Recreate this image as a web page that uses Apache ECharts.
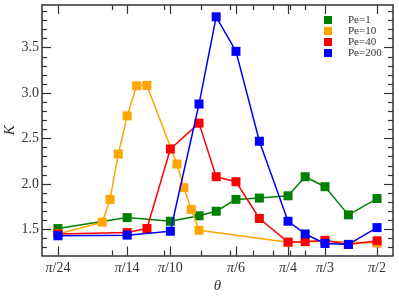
<!DOCTYPE html>
<html>
<head>
<meta charset="utf-8">
<script src="https://cdn.jsdelivr.net/npm/echarts@6/dist/echarts.min.js"></script>
<style>html,body{margin:0;padding:0;background:#fff}#c{width:399px;height:303px}</style>
</head>
<body>
<div id="c"></div>
<script>
// theta values are given as fractions of pi
var thetaGreen = [1/24, 1/14, 1/10, 1/8, 1/7, 1/6, 1/5, 1/4, 2/7, 1/3, 2/5, 1/2];
var kGreen     = [1.51, 1.63, 1.59, 1.65, 1.70, 1.83, 1.845, 1.87, 2.08, 1.97, 1.66, 1.84];
var thetaOrange = [1/24, 1/17, 1/16, 1/15, 1/14, 1/13, 1/12, 1/9.5, 1/9, 1/8.5, 1/8, 1/4, 1/3, 1/2];
var kOrange     = [1.45, 1.58, 1.83, 2.33, 2.75, 3.08, 3.085, 2.22, 1.96, 1.72, 1.49, 1.36, 1.37, 1.35];
var thetaRed = [1/24, 1/14, 1/12, 1/10, 1/8, 1/7, 1/6, 1/5, 1/4, 2/7, 1/3, 2/5, 1/2];
var kRed     = [1.45, 1.465, 1.51, 2.385, 2.67, 2.08, 2.025, 1.62, 1.36, 1.365, 1.38, 1.335, 1.375];
var thetaBlue = [1/24, 1/14, 1/10, 1/8, 1/7, 1/6, 1/5, 1/4, 2/7, 1/3, 2/5, 1/2];
var kBlue     = [1.43, 1.437, 1.48, 2.88, 3.84, 3.46, 2.47, 1.59, 1.45, 1.345, 1.335, 1.52];
var seriesNames = ['Pe=1', 'Pe=10', 'Pe=40', 'Pe=200'];
var seriesColors = ['#008000', '#FFA500', '#FF0000', '#0000FF'];

var xTickDenoms = [24, 14, 10, 6, 4, 3, 2];
var xTickLabels = ['π/24', 'π/14', 'π/10', 'π/6', 'π/4', 'π/3', 'π/2'];
var xMinorTicks = [0.2, 0.3, 0.4, 0.5, 0.6, 0.7, 0.8, 0.9];
var yMajorTicks = [1.5, 2.0, 2.5, 3.0, 3.5];
var yMinorTicks = [1.3, 1.4, 1.6, 1.7, 1.8, 1.9, 2.1, 2.2, 2.3, 2.4, 2.6, 2.7, 2.8, 2.9, 3.1, 3.2, 3.3, 3.4, 3.6, 3.7, 3.8, 3.9];
var yMin = 1.213, yMax = 3.97;

var L = function (v) { return Math.log10(v); };
var lo = L(Math.PI / 24), hi = L(Math.PI / 2), pad = (hi - lo) * 0.05;
var xMin = lo - pad, xMax = hi + pad;
var xMajorLog = xTickDenoms.map(function (d) { return L(Math.PI / d); });
var xMinorLog = xMinorTicks.map(L);

var FONT = '"Liberation Serif", "DejaVu Serif", serif';
var AX = '#333';

function xlabel(v) {
  var best = 0, bd = 1e9;
  for (var i = 0; i < xMajorLog.length; i++) {
    var d = Math.abs(xMajorLog[i] - v);
    if (d < bd) { bd = d; best = i; }
  }
  var s = xTickLabels[best];
  return '{i|π}{n|' + s.slice(1) + '}';
}

function xAxisDef(pos, major) {
  return {
    type: 'value', position: pos, min: xMin, max: xMax,
    axisLine: { show: major, onZero: false, lineStyle: { color: AX, width: 1.5 } },
    axisTick: { show: true, inside: true, length: major ? 9 : 5, customValues: major ? xMajorLog : xMinorLog, lineStyle: { color: AX, width: 1.2 } },
    axisLabel: (major && pos === 'bottom') ? {
      customValues: xMajorLog, formatter: xlabel, margin: 6, color: AX,
      fontFamily: FONT, fontSize: 14,
      rich: { i: { fontStyle: 'italic', fontFamily: FONT, fontSize: 14, color: AX }, n: { fontFamily: FONT, fontSize: 14, color: AX } }
    } : { show: false },
    splitLine: { show: false }
  };
}
function yAxisDef(pos, major) {
  return {
    type: 'value', position: pos, min: yMin, max: yMax,
    axisLine: { show: major, onZero: false, lineStyle: { color: AX, width: 1.5 } },
    axisTick: { show: true, inside: true, length: major ? 9 : 5, customValues: major ? yMajorTicks : yMinorTicks, lineStyle: { color: AX, width: 1.2 } },
    axisLabel: (major && pos === 'left') ? {
      customValues: yMajorTicks, formatter: function (v) { return v.toFixed(1); }, margin: 3, color: AX,
      fontFamily: FONT, fontSize: 14
    } : { show: false },
    splitLine: { show: false }
  };
}

var xAxes = [xAxisDef('bottom', true), xAxisDef('bottom', false), xAxisDef('top', true), xAxisDef('top', false)];
xAxes[0].name = 'θ';
xAxes[0].nameLocation = 'middle';
xAxes[0].nameGap = 23;
xAxes[0].nameMoveOverlap = false;
xAxes[0].nameTextStyle = { fontFamily: FONT, fontStyle: 'italic', fontSize: 15, color: AX };
var yAxes = [yAxisDef('left', true), yAxisDef('left', false), yAxisDef('right', true), yAxisDef('right', false)];
yAxes[0].name = 'K';
yAxes[0].nameLocation = 'middle';
yAxes[0].nameGap = 24;
yAxes[0].nameRotate = 90;
yAxes[0].nameMoveOverlap = false;
yAxes[0].nameTextStyle = { fontFamily: FONT, fontStyle: 'italic', fontSize: 15, color: AX };

var thetas = [thetaGreen, thetaOrange, thetaRed, thetaBlue];
var ks = [kGreen, kOrange, kRed, kBlue];
var series = seriesNames.map(function (name, si) {
  return {
    name: name, type: 'line', xAxisIndex: 0, yAxisIndex: 0,
    data: thetas[si].map(function (t, i) { return [L(Math.PI * t), ks[si][i]]; }),
    symbol: 'rect', symbolSize: 9, showSymbol: true,
    lineStyle: { color: seriesColors[si], width: 1.5 },
    itemStyle: { color: seriesColors[si] },
    z: 2 + si, animation: false
  };
});

var chart = echarts.init(document.getElementById('c'), null, { renderer: 'canvas' });
chart.setOption({
  animation: false,
  grid: { left: 42, right: 6, top: 5, bottom: 47.5, containLabel: false, outerBoundsMode: 'none' },
  xAxis: xAxes,
  yAxis: yAxes,
  legend: {
    data: seriesNames.map(function (n) { return { name: n, icon: 'rect' }; }),
    orient: 'vertical', left: 324, top: 14.5, padding: 0, itemGap: 0,
    itemWidth: 8, itemHeight: 8,
    textStyle: { fontFamily: FONT, fontSize: 11, color: '#333', lineHeight: 11, padding: [0, 0, 0, 11] }
  },
  series: series
});
</script>
</body>
</html>
